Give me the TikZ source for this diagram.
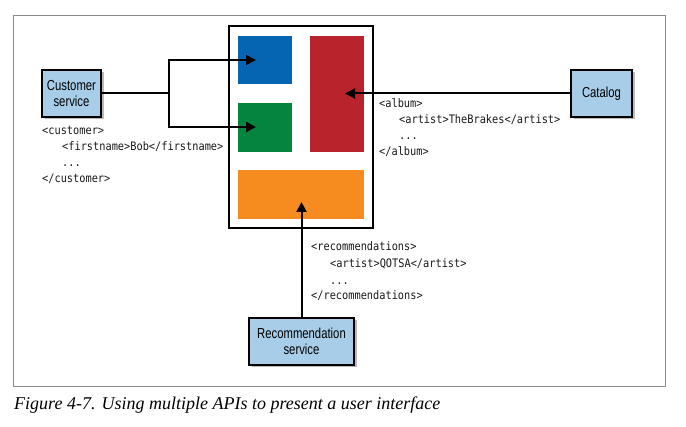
\documentclass[tikz,border=0pt]{standalone}
\usepackage{fontspec}
\setmainfont{Liberation Serif}
\newfontfamily\boxfont[FakeStretch=0.78]{Liberation Sans}
\newfontfamily\codefont[FakeStretch=0.88]{DejaVu Sans Mono}
\usetikzlibrary{arrows.meta,shadows}
\definecolor{uiblue}{HTML}{0565B2}
\definecolor{uired}{HTML}{B8232C}
\definecolor{uigreen}{HTML}{05843E}
\definecolor{uiorange}{HTML}{F68B1F}
\definecolor{svcfill}{HTML}{A8CDE8}
\definecolor{framegray}{HTML}{8A8A8A}
\definecolor{codegray}{HTML}{1A1A1A}
\tikzset{
  svc/.style={draw=black, line width=2pt, fill=svcfill, align=center,
    font=\boxfont\fontsize{14.5}{16.5}\selectfont, inner sep=0pt,
    drop shadow={shadow xshift=2.5pt, shadow yshift=-2.5pt, opacity=0.45, fill=black!60}},
  panel/.style={draw=none, inner sep=0pt},
  code/.style={anchor=base west, inner sep=0pt, text=codegray,
    font=\codefont\fontsize{11.7}{13}\selectfont},
  arr/.style={line width=2pt, -{Triangle[length=10pt,width=10pt]}}
}
\begin{document}
\begin{tikzpicture}[x=1pt,y=-1pt]
\useasboundingbox (0,0) rectangle (686,427);
\fill[white] (0,0) rectangle (686,427);
% outer figure frame
\draw[framegray, line width=1pt] (13,16) rectangle (665,387);
% UI window
\node[draw=black, line width=2.6pt, minimum width=144pt, minimum height=202pt, inner sep=0pt] (ui) at (301,127) {};
\node[panel, fill=uiblue, minimum width=54pt, minimum height=48pt] (blue) at (265,60) {};
\node[panel, fill=uigreen, minimum width=54pt, minimum height=49pt] (green) at (265,127.5) {};
\node[panel, fill=uired, minimum width=54pt, minimum height=116pt] (red) at (337,94) {};
\node[panel, fill=uiorange, minimum width=126pt, minimum height=49pt] (orange) at (301,194.5) {};
% services
\node[svc, minimum width=59pt, minimum height=47pt] (cs) at (71.5,93.5) {Customer\\service};
\node[svc, minimum width=61pt, minimum height=47pt] (cat) at (601.5,93.5) {Catalog};
\node[svc, minimum width=105pt, minimum height=47pt] (rec) at (301.5,341.5) {Recommendation\\service};
% arrow targets
\coordinate (j) at (169,93.5);
\coordinate (bt) at (256,60);
\coordinate (gt) at (256,127);
\coordinate (rt) at (345,93.5);
\coordinate (ot) at (301.5,202);
% connectors
\draw[arr] (cs.east) -- (j) |- (bt);
\draw[arr] (j) |- (gt);
\draw[arr] (cat.west) -- (rt);
\draw[arr] (rec.north) -- (ot);
% code texts
\node[code] (c1) at (42,135) {<customer>};
\node[code] (c2) at (62,151) {<firstname>Bob</firstname>};
\node[code] (c3) at (62,167) {...};
\node[code] (c4) at (42,182.5) {</customer>};
\node[code] (a1) at (379,108) {<album>};
\node[code] (a2) at (399,124) {<artist>TheBrakes</artist>};
\node[code] (a3) at (399,140) {...};
\node[code] (a4) at (379,156) {</album>};
\node[code] (r1) at (311,251) {<recommendations>};
\node[code] (r2) at (330,268) {<artist>QOTSA</artist>};
\node[code] (r3) at (330,285) {...};
\node[code] (r4) at (311,300) {</recommendations>};
% caption
\node[anchor=base west, inner sep=0pt, font=\itshape\fontsize{18}{20}\selectfont] (cap) at (14,410)
  {Figure 4-7. Using multiple APIs to present a user interface};
\end{tikzpicture}
\end{document}
